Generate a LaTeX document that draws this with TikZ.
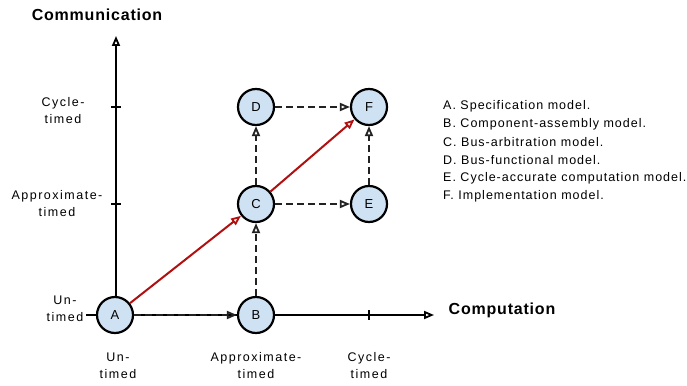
\documentclass[tikz,border=0pt]{standalone}
\usepackage{fontspec}
\setmainfont{Liberation Sans}
\newfontfamily\wide[LetterSpace=8]{Liberation Sans}
\newfontfamily\wider[LetterSpace=12]{Liberation Sans}
\newfontfamily\headfont[LetterSpace=5]{Liberation Sans}
\usetikzlibrary{arrows.meta}
\definecolor{nodefill}{HTML}{CFE2F3}
\definecolor{redline}{HTML}{B01010}
\definecolor{depcol}{HTML}{222222}
\begin{document}
\begin{tikzpicture}[x=1pt,y=-1pt,
  model/.style={circle,draw=black,line width=2.2pt,fill=nodefill,minimum size=36pt,inner sep=0pt,font=\wide\fontsize{13}{14}\selectfont},
  tip/.style={-{Triangle[open,length=10pt,width=8pt,line width=1.8pt]}},
  axis/.style={line width=1.6pt,tip},
  dep/.style={depcol,dash pattern=on 7pt off 4pt,line width=2.3pt,tip},
  refine/.style={redline,line width=2pt,tip},
  lab/.style={align=center,font=\wider\fontsize{12.5}{17}\selectfont,inner sep=0pt},
  head/.style={font=\headfont\bfseries\fontsize{16}{18}\selectfont,inner sep=0pt},
  leg/.style={anchor=west,font=\wide\fontsize{12.5}{14}\selectfont,inner sep=0pt}]
\useasboundingbox (0,0) rectangle (687,385);
% axes
\coordinate (o) at (116,315);
\coordinate (ytop) at (116,36);
\coordinate (xl) at (86,315);
\coordinate (xr) at (434,315);
\draw[axis] (o) -- (ytop);
\draw[axis] (xl) -- (xr);
\draw[line width=1.6pt] (111,107) -- (121,107) (111,204) -- (121,204) (369,310) -- (369,320);
\node[head] (comm) at (97,15) {Communication};
\node[head] (comp) at (502,310) {Computation};
% axis labels
\node[lab] (ly1) at (63,111) {Cycle-\\timed};
\node[lab] (ly2) at (57,204) {Approximate-\\timed};
\node[lab] (ly3) at (65,309) {Un-\\timed};
\node[lab] (lx1) at (118,366) {Un-\\timed};
\node[lab] (lx2) at (256,366) {Approximate-\\timed};
\node[lab] (lx3) at (369,366) {Cycle-\\timed};
% nodes
\node[model] (A) at (115,315) {A};
\node[model] (B) at (256,315) {B};
\node[model] (C) at (256,204) {C};
\node[model] (D) at (256,107) {D};
\node[model] (E) at (369,204) {E};
\node[model] (F) at (369,107) {F};
% connectors
\draw[dep] (A) -- (B);
\draw[dep] (B) -- (C);
\draw[dep] (C) -- (D);
\draw[dep] (D) -- (F);
\draw[dep] (C) -- (E);
\draw[dep] (E) -- (F);
\draw[refine] (A) -- (C);
\draw[refine] (C) -- (F);
% legend
\node[leg] (l1) at (443,106) {A. Specification model.};
\node[leg] (l2) at (443,124) {B. Component-assembly model.};
\node[leg] (l3) at (443,142) {C. Bus-arbitration model.};
\node[leg] (l4) at (443,160) {D. Bus-functional model.};
\node[leg] (l5) at (443,178) {E. Cycle-accurate computation model.};
\node[leg] (l6) at (443,196) {F. Implementation model.};
\end{tikzpicture}
\end{document}
